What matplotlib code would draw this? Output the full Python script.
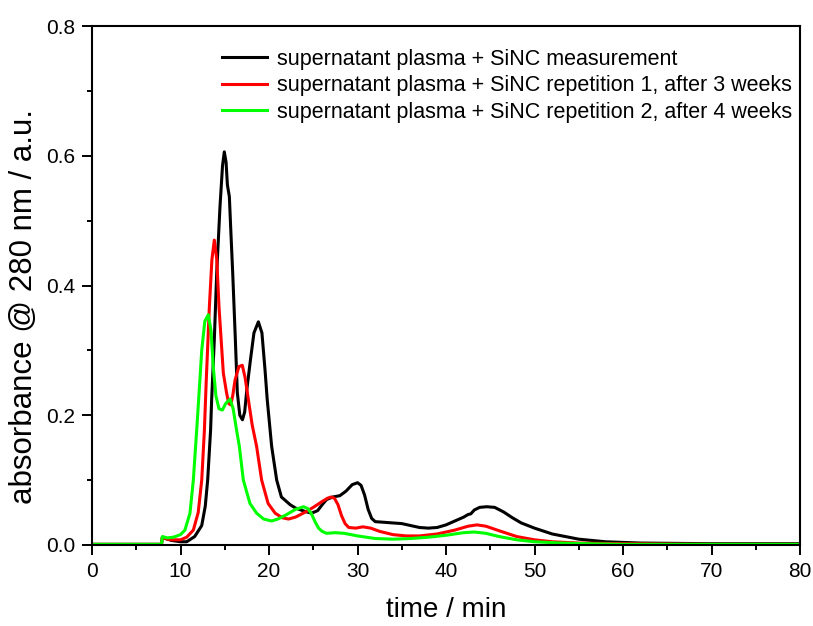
import matplotlib
matplotlib.use("Agg")
import matplotlib.pyplot as plt
from matplotlib.ticker import MultipleLocator

plt.rcParams["font.family"] = ["Liberation Sans", "DejaVu Sans"]

# time / min and absorbance values
t_meas = [0, 7.85, 7.95, 8.5, 9, 10, 10.7, 11.6, 12.4, 12.8, 13.07, 13.4, 13.52, 13.82, 14.09,
          14.46, 14.75, 14.95, 15.15, 15.3, 15.52, 15.7, 15.9, 16.2, 16.42, 16.7, 17.0, 17.25,
          17.5, 17.9, 18.3, 18.8, 19.2, 19.55, 19.8, 20.3, 20.87, 21.4, 22.4, 23, 24, 24.8,
          25.5, 26, 26.5, 27.2, 28, 28.7, 29.4, 30, 30.4, 30.8, 31.2, 31.6, 32, 33, 34, 35, 36,
          37, 38, 39, 40, 41, 42, 42.5, 42.8, 43.2, 43.8, 44.6, 45.5, 46.5, 47.5, 48.5, 50, 52,
          55, 58, 62, 70, 80]
a_meas = [0.001, 0.001, 0.012, 0.009, 0.007, 0.005, 0.005, 0.013, 0.03, 0.06, 0.1, 0.177, 0.224,
          0.316, 0.419, 0.521, 0.585, 0.606, 0.59, 0.555, 0.537, 0.48, 0.419, 0.316, 0.235, 0.2,
          0.193, 0.205, 0.24, 0.285, 0.327, 0.344, 0.327, 0.27, 0.224, 0.152, 0.1, 0.074, 0.062,
          0.057, 0.052, 0.049, 0.053, 0.062, 0.07, 0.074, 0.076, 0.083, 0.093, 0.096, 0.092,
          0.077, 0.055, 0.041, 0.036, 0.035, 0.034, 0.033, 0.030, 0.027, 0.026, 0.027, 0.031,
          0.037, 0.043, 0.047, 0.048, 0.054, 0.058, 0.059, 0.058, 0.051, 0.042, 0.034, 0.026,
          0.017, 0.009, 0.005, 0.003, 0.002, 0.002]

t_rep1 = [0, 7.85, 7.95, 8.5, 9, 10, 10.7, 11.45, 12, 12.4, 12.7, 12.9, 13.26, 13.55, 13.82,
          14.1, 14.35, 14.84, 15.2, 15.45, 15.67, 15.9, 16.16, 16.6, 16.98, 17.3, 17.67, 18.1,
          18.6, 19.17, 19.9, 20.7, 21.5, 22.2, 23, 24, 25, 26, 26.6, 27, 27.4, 27.8, 28.2, 28.6,
          29, 29.8, 30.6, 31.5, 32.5, 34, 35.5, 37, 39, 41, 42.5, 43.5, 44.5, 46, 48, 50, 52, 55,
          60, 70, 80]
a_rep1 = [0.001, 0.001, 0.012, 0.009, 0.008, 0.008, 0.012, 0.023, 0.05, 0.1, 0.177, 0.25,
          0.367, 0.44, 0.470, 0.44, 0.367, 0.265, 0.235, 0.218, 0.216, 0.23, 0.254, 0.275,
          0.277, 0.258, 0.224, 0.185, 0.152, 0.1, 0.064, 0.049, 0.042, 0.040, 0.043, 0.05,
          0.058, 0.067, 0.072, 0.074, 0.072, 0.062, 0.045, 0.033, 0.027, 0.026, 0.028, 0.026,
          0.021, 0.016, 0.014, 0.014, 0.017, 0.023, 0.029, 0.031, 0.029, 0.022, 0.013, 0.008,
          0.005, 0.003, 0.002, 0.001, 0.001]

t_rep2 = [0, 7.85, 7.95, 8.5, 9.2, 10, 10.5, 11.07, 11.45, 11.83, 12.1, 12.4, 12.75, 13.14,
          13.45, 13.7, 14.0, 14.35, 14.73, 15.1, 15.6, 15.95, 16.3, 16.65, 17.1, 17.85, 18.6,
          19.4, 20.3, 21, 22, 23, 23.9, 24.4, 24.8, 25.2, 25.6, 26, 26.5, 27.5, 28.5, 30, 32,
          34, 36, 38, 40, 42, 43.2, 44.5, 46, 48, 50, 53, 56, 60, 70, 80]
a_rep2 = [0.001, 0.001, 0.013, 0.011, 0.012, 0.016, 0.023, 0.049, 0.1, 0.177, 0.235, 0.3,
          0.345, 0.355, 0.33, 0.275, 0.23, 0.21, 0.208, 0.218, 0.225, 0.21, 0.18, 0.152, 0.1,
          0.064, 0.049, 0.04, 0.037, 0.04, 0.047, 0.055, 0.059, 0.056, 0.048, 0.036, 0.026,
          0.021, 0.018, 0.019, 0.018, 0.014, 0.010, 0.009, 0.010, 0.012, 0.015, 0.019, 0.020,
          0.018, 0.013, 0.008, 0.005, 0.003, 0.002, 0.001, 0.001, 0.001]

labels = ["supernatant plasma + SiNC measurement",
          "supernatant plasma + SiNC repetition 1, after 3 weeks",
          "supernatant plasma + SiNC repetition 2, after 4 weeks"]

fig = plt.figure(figsize=(8.13, 6.26), dpi=100)
ax = fig.add_axes([92/813, 81/626, 708/813, 519/626])

ax.plot(t_meas, a_meas, color="black", lw=2.2, label=labels[0])
ax.plot(t_rep1, a_rep1, color="#ff0000", lw=2.2, label=labels[1])
ax.plot(t_rep2, a_rep2, color="#00ff00", lw=2.2, label=labels[2])

ax.set_xlim(0, 80)
ax.set_ylim(0, 0.8)
ax.xaxis.set_major_locator(MultipleLocator(10))
ax.xaxis.set_minor_locator(MultipleLocator(5))
ax.yaxis.set_major_locator(MultipleLocator(0.2))
ax.yaxis.set_minor_locator(MultipleLocator(0.1))
ax.tick_params(which="both", direction="out", width=1.4, labelsize=15, pad=5)
ax.tick_params(which="major", length=7)
ax.tick_params(which="minor", length=3.5)
for sp in ax.spines.values():
    sp.set_linewidth(1.5)

ax.set_xlabel("time / min", fontsize=20, labelpad=12)
# y label sits a bit below the axis centre in the original
fig.text(24/813, 1 - 306/626, "absorbance @ 280 nm / a.u.", fontsize=22.5,
         rotation=90, ha="center", va="center")

ax.legend(loc="upper right", bbox_to_anchor=(1.01, 0.985), frameon=False, fontsize=15.5,
          handlelength=2.1, handletextpad=0.45, labelspacing=0.25, borderaxespad=0.3)

fig.savefig("out.png", dpi=100)
